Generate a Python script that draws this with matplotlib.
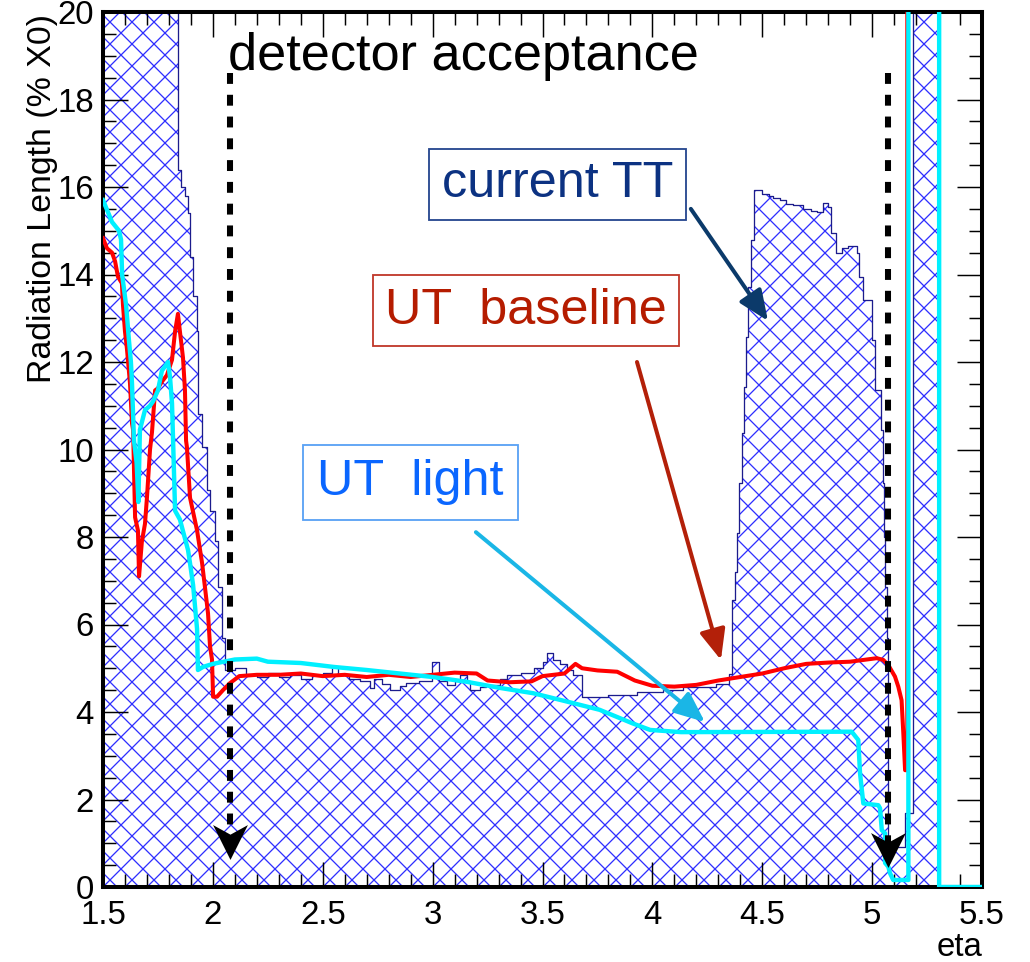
import matplotlib
matplotlib.use('Agg')
import matplotlib.pyplot as plt
from matplotlib.ticker import MultipleLocator
from matplotlib.path import Path

# ---- data ----
# current TT material (hatched histogram, bin left edges + heights)
tt_eta = [1.5, 1.841, 1.855, 1.873, 1.887, 1.896, 1.910, 1.928, 1.932, 1.951,
          1.973, 1.987, 2.010, 2.023, 2.042, 2.055, 2.10, 2.15, 2.20, 2.25,
          2.30, 2.35, 2.40, 2.45, 2.50, 2.54, 2.57, 2.62, 2.67, 2.715,
          2.735, 2.77, 2.806, 2.85, 2.88, 2.94, 2.995, 3.03, 3.065, 3.10,
          3.125, 3.155, 3.17, 3.215, 3.245, 3.305, 3.34, 3.40, 3.46, 3.50,
          3.52, 3.55, 3.58, 3.61, 3.64, 3.68, 3.80, 3.93, 4.05, 4.14,
          4.29, 4.35, 4.362, 4.376, 4.386, 4.395, 4.41, 4.418, 4.425, 4.437,
          4.448, 4.463, 4.50, 4.53, 4.55, 4.58, 4.61, 4.64, 4.685, 4.72,
          4.75, 4.776, 4.80, 4.815, 4.835, 4.865, 4.89, 4.93, 4.94, 4.96,
          4.998, 5.015, 5.04, 5.048, 5.053, 5.059, 5.066, 5.072, 5.15, 5.185,
          5.305, 5.5]
tt_val = [25, 16.4, 16.0, 15.8, 15.4, 14.4, 13.5, 12.7, 10.8, 10.06,
          9.07, 8.6, 7.9, 6.85, 5.7, 4.95, 5.0, 4.85, 4.8, 4.9,
          4.8, 4.85, 4.75, 4.85, 4.9, 5.03, 4.85, 4.75, 4.7, 4.55,
          4.75, 4.65, 4.5, 4.6, 4.66, 4.7, 5.15, 4.7, 4.62, 4.7,
          4.85, 4.7, 4.5, 4.58, 4.62, 4.75, 4.85, 4.9, 5.0, 5.15,
          5.35, 5.2, 5.1, 4.95, 4.85, 4.35, 4.38, 4.45, 4.5, 4.58,
          4.65, 4.87, 6.56, 7.2, 8.1, 9.23, 10.38, 11.43, 12.57, 13.71,
          14.79, 15.93, 15.85, 15.8, 15.75, 15.7, 15.62, 15.6, 15.5, 15.45,
          15.42, 15.64, 15.55, 14.95, 14.5, 14.6, 14.65, 14.5, 13.95, 13.42,
          12.5, 11.36, 10.45, 9.23, 8.0, 6.86, 5.7, 0.91, 1.7, 25,
          0, 0]

# UT baseline (red)
red_eta = [1.500, 1.518, 1.541, 1.555, 1.568, 1.586, 1.591, 1.600, 1.609, 1.623,
           1.632, 1.637, 1.646, 1.659, 1.664, 1.677, 1.691, 1.700, 1.714, 1.723,
           1.737, 1.750, 1.768, 1.791, 1.814, 1.828, 1.841, 1.850, 1.864, 1.873,
           1.878, 1.882, 1.896, 1.928, 1.951, 1.964, 1.978, 1.987, 1.996, 2.001,
           2.019, 2.046, 2.078, 2.12, 2.2, 2.3, 2.4, 2.5, 2.6, 2.7,
           2.8, 2.9, 3.0, 3.1, 3.2, 3.25, 3.35, 3.45, 3.5, 3.6,
           3.65, 3.68, 3.75, 3.84, 3.92, 4.0, 4.1, 4.2, 4.3, 4.4,
           4.5, 4.6, 4.7, 4.8, 4.9, 5.021, 5.051, 5.074, 5.104, 5.119,
           5.134, 5.142, 5.150, 5.160, 5.160]
red_val = [14.83, 14.6, 14.5, 14.3, 13.95, 13.8, 13.3, 12.7, 12.3, 11.5,
           10.6, 10.45, 8.45, 8.15, 7.1, 7.9, 8.3, 8.9, 10.0, 10.4,
           11.35, 11.4, 11.55, 11.7, 12.05, 12.7, 13.1, 12.7, 12.1, 11.35,
           10.2, 10.05, 8.9, 8.15, 7.4, 6.85, 6.25, 5.5, 5.2, 4.35,
           4.35, 4.5, 4.66, 4.82, 4.85, 4.85, 4.88, 4.82, 4.85, 4.8,
           4.85, 4.8, 4.85, 4.9, 4.88, 4.72, 4.68, 4.7, 4.82, 4.88,
           5.1, 5.0, 4.95, 4.92, 4.72, 4.6, 4.58, 4.62, 4.72, 4.8,
           4.88, 5.0, 5.1, 5.13, 5.15, 5.23, 5.19, 5.07, 4.81, 4.58,
           4.27, 3.51, 2.67, 2.67, 25]

# UT light (cyan)
cyan_eta = [1.500, 1.541, 1.573, 1.582, 1.587, 1.605, 1.618, 1.627, 1.632, 1.641,
            1.653, 1.661, 1.668, 1.691, 1.714, 1.728, 1.750, 1.768, 1.796, 1.805,
            1.814, 1.819, 1.828, 1.850, 1.887, 1.896, 1.910, 1.928, 1.932, 1.955,
            2.0, 2.05, 2.1, 2.2, 2.25, 2.4, 2.55, 2.7, 2.85, 3.0,
            3.156, 3.307, 3.457, 3.61, 3.76, 3.91, 3.99, 4.13, 4.907, 4.937,
            4.945, 4.96, 5.028, 5.036, 5.044, 5.059, 5.059, 5.074, 5.081, 5.096,
            5.165, 5.165, 5.305, 5.305, 5.5]
cyan_val = [15.7, 15.2, 15.0, 14.8, 14.0, 13.3, 12.5, 12.0, 11.5, 10.2,
            9.7, 8.8, 10.45, 10.9, 11.0, 11.1, 11.35, 11.8, 12.0, 11.65,
            11.06, 10.2, 8.6, 8.4, 7.7, 7.4, 6.9, 5.9, 4.96, 5.03,
            5.1, 5.15, 5.2, 5.22, 5.15, 5.12, 5.03, 4.96, 4.88, 4.8,
            4.69, 4.55, 4.43, 4.24, 4.05, 3.74, 3.59, 3.54, 3.55, 3.36,
            2.6, 1.91, 1.87, 1.8, 1.3, 1.23, 0.55, 0.46, 0.32, 0.16,
            0.16, 25, 25, 0.0, 0.0]

xtick_vals = [1.5, 2, 2.5, 3, 3.5, 4, 4.5, 5, 5.5]
xtick_labels = ['1.5', '2', '2.5', '3', '3.5', '4', '4.5', '5', '5.5']
ytick_vals = [0, 2, 4, 6, 8, 10, 12, 14, 16, 18, 20]

# detector acceptance markers: eta position, arrow tip height
accept_eta = [2.078, 5.072]
accept_tip = [0.73, 0.55]

plt.rcParams['font.family'] = ['Liberation Sans', 'DejaVu Sans']
plt.rcParams['hatch.linewidth'] = 0.7

DPI = 132
fig = plt.figure(figsize=(1030 / DPI, 962 / DPI), dpi=DPI)
ax = fig.add_axes([103 / 1030, 75 / 962, 879 / 1030, 875 / 962])

# hatched TT histogram + its outline
ax.fill_between(tt_eta, tt_val, step='post', facecolor='none',
                edgecolor='#2f2fff', hatch='xx', linewidth=0, zorder=1)
ax.step(tt_eta, tt_val, where='post', color='#1c1c8c', lw=0.7, zorder=1.5)

ax.plot(red_eta, red_val, color='#ff0000', lw=2.2, zorder=3)
ax.plot(cyan_eta, cyan_val, color='#00f0ff', lw=2.4, zorder=3.5)

# dashed acceptance arrows
head = Path([(0, -1), (-1, 1), (0, 0.45), (1, 1), (0, -1)],
            [Path.MOVETO, Path.LINETO, Path.LINETO, Path.LINETO, Path.CLOSEPOLY])
head_half = 13.0 / 43.75
for e, tip in zip(accept_eta, accept_tip):
    ax.plot([e, e], [18.6, tip + 1.5 * head_half], color='black', lw=3.3,
            linestyle=(0, (1.8, 1.8)), zorder=5, dash_capstyle='butt')
    ax.plot([e], [tip + head_half], marker=head, markersize=19,
            color='black', markeredgewidth=0, zorder=5)

ax.text(2.069, 18.67, 'detector acceptance', fontsize=28.5, ha='left',
        va='baseline', color='black', zorder=6)

# labelled boxes
ax.text(3.568, 16.06, 'current TT', fontsize=27.5, color='#0c3282',
        ha='center', va='center', zorder=6,
        bbox=dict(boxstyle='square,pad=0.25', fc='white', ec='#27478f', lw=1.0))
ax.text(3.425, 13.17, 'UT  baseline', fontsize=27.5, color='#b51c00',
        ha='center', va='center', zorder=6,
        bbox=dict(boxstyle='square,pad=0.25', fc='white', ec='#c0392b', lw=1.0))
ax.text(2.899, 9.246, 'UT  light', fontsize=27.5, color='#0a66ff',
        ha='center', va='center', zorder=6,
        bbox=dict(boxstyle='square,pad=0.28', fc='white', ec='#5aa2f5', lw=1.0))

# pointer arrows
for start, tip, col in [((4.175, 15.5), (4.526, 12.94), '#0b3a6a'),
                        ((3.930, 12.0), (4.312, 5.19), '#b32009'),
                        ((3.197, 8.11), (4.239, 3.77), '#1ab6e6')]:
    ax.annotate('', xy=tip, xytext=start, zorder=6,
                arrowprops=dict(arrowstyle='-|>,head_length=0.7,head_width=0.3',
                                color=col, lw=2.2, mutation_scale=20,
                                shrinkA=0, shrinkB=0))

# axes styling (ROOT-like)
ax.set_xlim(1.5, 5.5)
ax.set_ylim(0, 20)
ax.set_xticks(xtick_vals, xtick_labels)
ax.set_yticks(ytick_vals)
ax.xaxis.set_minor_locator(MultipleLocator(0.1))
ax.yaxis.set_minor_locator(MultipleLocator(0.5))
ax.tick_params(which='both', direction='in', top=True, right=True,
               width=0.8, labelsize=18)
ax.tick_params(which='major', length=13.6)
ax.tick_params(which='minor', length=7.1)
ax.tick_params(axis='x', pad=7)
ax.tick_params(axis='y', pad=5)
for sp in ax.spines.values():
    sp.set_linewidth(2.2)

fig.text(43 / 1030, 1 - 14 / 962, 'Radiation Length (% X0)', rotation=90,
         ha='center', va='top', fontsize=18.5)
fig.text(982 / 1030, 6 / 962, 'eta', ha='right', va='baseline', fontsize=18)

fig.savefig('out.png', dpi=DPI)
